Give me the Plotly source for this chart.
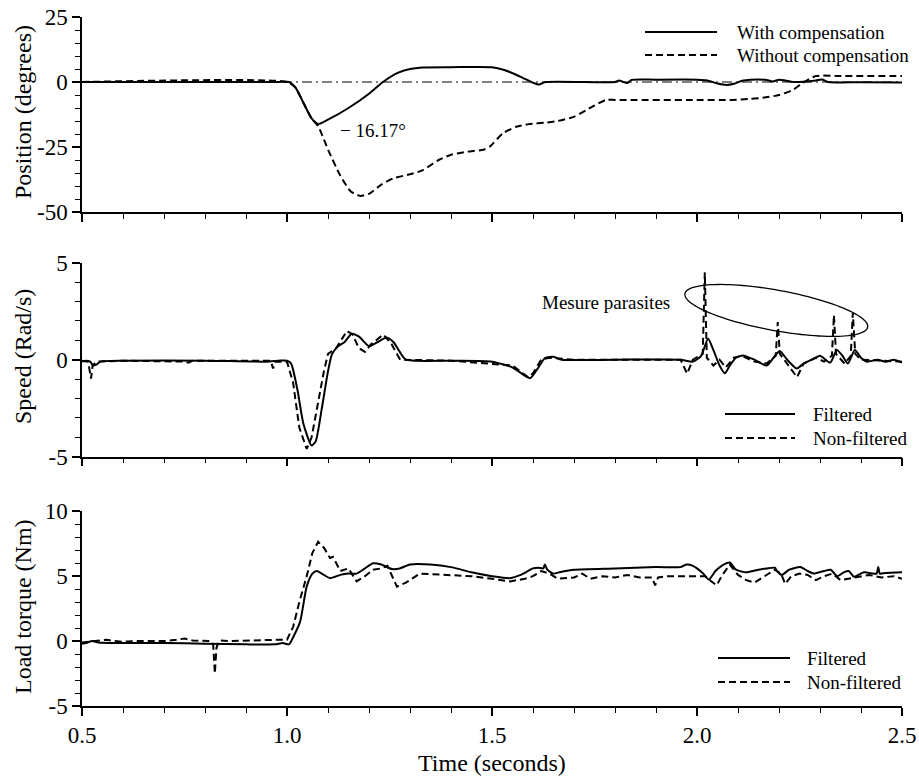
import numpy as np
import plotly.graph_objects as go

# ---------------- data ----------------
# Position (degrees)
pos_t_comp = [0.50, 0.98, 1.005, 1.02, 1.04, 1.06, 1.076, 1.10, 1.15, 1.20, 1.234, 1.27, 1.30, 1.33,
              1.40, 1.50, 1.53, 1.57, 1.60, 1.615, 1.63, 1.80, 1.81, 1.82, 1.83, 1.84, 1.90, 2.00,
              2.025, 2.05, 2.072, 2.09, 2.11, 2.13, 2.17, 2.185, 2.20, 2.215, 2.235, 2.26, 2.29,
              2.305, 2.32, 2.40, 2.50]
pos_y_comp = [0.0, 0.0, 0.0, -2.0, -8.0, -14.0, -16.17, -14.5, -10.0, -4.5, 0.0, 3.5, 5.0, 5.6,
              5.7, 5.7, 4.6, 2.0, -0.3, -1.0, 0.0, 0.0, 0.6, 0.0, -0.4, 0.8, 0.9, 0.9,
              0.6, -0.6, -1.15, -0.7, 0.5, 0.9, 0.8, 0.2, 0.9, 0.6, 0.0, 0.1, 0.6,
              1.0, 0.0, -0.1, -0.2]

pos_t_nocomp = [0.50, 1.00, 1.02, 1.04, 1.06, 1.076, 1.10, 1.13, 1.155, 1.178, 1.20, 1.23, 1.26,
                1.30, 1.33, 1.37, 1.40, 1.44, 1.48, 1.495, 1.527, 1.559, 1.59, 1.632, 1.66, 1.701,
                1.745, 1.778, 1.80, 2.00, 2.087, 2.13, 2.168, 2.20, 2.233, 2.258, 2.29, 2.35, 2.50]
pos_y_nocomp = [0.0, 0.0, -2.0, -8.0, -14.0, -17.0, -26.0, -36.0, -42.0, -43.8, -43.0, -39.5, -37.0,
                -35.5, -34.0, -30.0, -28.0, -26.8, -26.0, -24.8, -19.7, -17.2, -16.2, -15.6, -15.0, -13.3,
                -9.5, -6.9, -6.9, -6.9, -6.9, -6.5, -5.9, -5.0, -3.1, -0.3, 2.3, 2.3, 2.3]

# Speed (Rad/s)
spd_t_filt = [0.500, 0.510, 0.520, 0.527, 0.535, 0.545, 0.60, 0.80, 0.95, 0.98, 1.00, 1.01, 1.025,
              1.04, 1.06, 1.07, 1.085, 1.10, 1.11, 1.125, 1.14, 1.158, 1.175, 1.20, 1.22, 1.243,
              1.26, 1.275, 1.29, 1.40, 1.50, 1.55, 1.593, 1.61, 1.63, 1.65, 1.67, 1.80, 1.96,
              1.99, 2.01, 2.027, 2.04, 2.055, 2.068, 2.08, 2.095, 2.112, 2.14, 2.17, 2.19, 2.202,
              2.22, 2.243, 2.26, 2.28, 2.30, 2.325, 2.341, 2.355, 2.368, 2.385, 2.40, 2.414,
              2.44, 2.46, 2.48, 2.50]
spd_y_filt = [-0.1, -0.05, -0.1, -0.3, -0.25, -0.1, -0.05, -0.05, -0.1, -0.05, -0.05, -0.2, -1.5,
              -3.3, -4.42, -4.2, -2.5, -0.6, 0.3, 0.7, 0.9, 1.34, 1.2, 0.7, 0.9, 1.15,
              0.9, 0.4, 0.0, -0.05, -0.1, -0.4, -0.95, -0.5, 0.1, 0.15, 0.0, 0.0, 0.0,
              -0.1, 0.2, 1.08, 0.5, -0.3, -0.7, -0.3, 0.1, 0.22, 0.0, -0.3, 0.2, 0.45,
              0.0, -0.45, -0.2, 0.0, 0.2, -0.15, 0.5, 0.2, -0.2, 0.5, 0.1, -0.1,
              0.0, -0.1, 0.0, -0.15]

spd_t_raw = [0.500, 0.515, 0.522, 0.526, 0.535, 0.60, 0.75, 0.76, 0.77, 0.96, 0.966, 0.972, 1.00,
             1.015, 1.03, 1.048, 1.06, 1.075, 1.09, 1.10, 1.12, 1.146, 1.16, 1.175, 1.19, 1.205,
             1.235, 1.255, 1.276, 1.40, 1.55, 1.588, 1.60, 1.62, 1.64, 1.70, 1.96, 1.976, 1.99,
             2.014, 2.019, 2.024, 2.04, 2.055, 2.07, 2.09, 2.11, 2.14, 2.17, 2.192, 2.197, 2.202,
             2.22, 2.244, 2.26, 2.29, 2.31, 2.329, 2.334, 2.339, 2.36, 2.375, 2.38, 2.386, 2.40,
             2.44, 2.50]
spd_y_raw = [-0.05, -0.1, -0.97, -0.3, -0.1, -0.05, -0.1, -0.15, -0.05, -0.05, -0.45, -0.1, -0.1,
             -1.2, -3.5, -4.6, -4.0, -2.2, -0.6, 0.3, 0.6, 1.48, 1.3, 0.6, 0.4, 0.8,
             1.3, 0.8, 0.0, -0.05, -0.3, -0.9, -0.7, 0.0, 0.1, 0.0, 0.0, -0.72, 0.0,
             0.3, 4.5, 0.1, -0.3, 0.0, -0.4, 0.1, 0.2, -0.1, -0.2, 0.2, 1.94, 0.3,
             -0.2, -0.9, -0.2, 0.1, -0.1, 0.2, 2.3, 0.3, -0.2, 0.2, 2.4, 0.3, 0.0,
             -0.05, -0.1]

# Load torque (Nm)
trq_t_filt = [0.500, 0.51, 0.525, 0.54, 0.60, 0.70, 0.80, 0.90, 0.97, 0.99, 1.005, 1.015, 1.032,
              1.048, 1.062, 1.073, 1.09, 1.105, 1.13, 1.15, 1.17, 1.19, 1.21, 1.23, 1.256, 1.275,
              1.30, 1.35, 1.40, 1.45, 1.50, 1.544, 1.57, 1.60, 1.612, 1.625, 1.629, 1.635, 1.649,
              1.67, 1.70, 1.80, 1.90, 1.959, 1.975, 1.99, 2.00, 2.015, 2.029, 2.045, 2.06, 2.08,
              2.095, 2.12, 2.15, 2.17, 2.19, 2.195, 2.207, 2.225, 2.252, 2.27, 2.285, 2.31, 2.326,
              2.342, 2.358, 2.37, 2.383, 2.407, 2.43, 2.438, 2.442, 2.446, 2.46, 2.50]
trq_y_filt = [-0.2, -0.15, 0.0, -0.1, -0.15, -0.15, -0.2, -0.25, -0.25, -0.15, -0.25, 0.3, 1.5,
              4.2, 5.2, 5.4, 5.1, 4.85, 5.1, 5.2, 5.2, 5.6, 6.0, 5.9, 5.55, 5.6,
              5.9, 5.9, 5.7, 5.3, 5.0, 4.85, 5.1, 5.6, 5.65, 5.6, 5.9, 5.5, 5.2,
              5.35, 5.5, 5.6, 5.7, 5.7, 5.9, 5.8, 5.6, 5.2, 4.75, 5.4, 5.8, 6.05,
              5.5, 5.3, 5.5, 5.6, 5.65, 5.4, 5.1, 5.5, 5.7, 5.4, 5.2, 5.4, 5.5,
              5.0, 5.3, 5.4, 4.95, 5.3, 5.2, 5.2, 5.7, 5.2, 5.25, 5.3]

trq_t_raw = [0.500, 0.52, 0.54, 0.56, 0.58, 0.60, 0.63, 0.66, 0.70, 0.73, 0.75, 0.77, 0.80, 0.815,
             0.82, 0.824, 0.828, 0.835, 0.86, 0.90, 0.94, 0.97, 1.00, 1.015, 1.03, 1.048, 1.062,
             1.076, 1.09, 1.105, 1.112, 1.13, 1.15, 1.17, 1.19, 1.21, 1.23, 1.245, 1.268, 1.29,
             1.324, 1.40, 1.45, 1.50, 1.544, 1.58, 1.60, 1.62, 1.64, 1.66, 1.70, 1.72, 1.74,
             1.77, 1.80, 1.83, 1.86, 1.89, 1.898, 1.905, 1.93, 1.96, 2.00, 2.02, 2.035, 2.048,
             2.06, 2.08, 2.10, 2.12, 2.14, 2.16, 2.19, 2.205, 2.215, 2.23, 2.25, 2.27, 2.29,
             2.31, 2.33, 2.35, 2.37, 2.40, 2.42, 2.45, 2.48, 2.50]
trq_y_raw = [-0.1, -0.05, 0.0, 0.1, 0.0, -0.05, 0.0, 0.0, 0.0, 0.1, 0.2, 0.05, 0.0, 0.0,
             -0.3, -2.5, -0.5, 0.05, 0.0, 0.05, 0.1, 0.1, 0.1, 1.1, 3.0, 5.0, 6.8,
             7.65, 7.2, 6.4, 6.5, 5.4, 5.6, 4.6, 5.0, 5.5, 5.6, 5.8, 4.2, 4.5,
             5.2, 5.1, 5.0, 4.8, 4.6, 4.8, 5.0, 5.4, 5.2, 4.8, 4.9, 5.2, 4.8,
             5.0, 4.9, 5.1, 4.9, 4.9, 4.3, 4.9, 5.0, 5.0, 5.0, 5.0, 4.6, 4.3,
             5.0, 5.9, 5.1, 4.7, 4.5, 4.9, 5.5, 5.2, 4.4, 5.0, 5.2, 5.1, 4.7,
             5.0, 5.2, 4.7, 4.8, 5.0, 5.1, 4.9, 5.0, 4.8]

# axis ticks
x_ticks = [0.5, 1.0, 1.5, 2.0, 2.5]
x_tick_text = ["0.5", "1.0", "1.5", "2.0", "2.5"]
pos_ticks = [25, 0, -25, -50]
pos_tick_text = ["25", "0", "-25", "-50"]
spd_ticks = [5, 0, -5]
spd_tick_text = ["5", "0", "-5"]
trq_ticks = [10, 5, 0, -5]
trq_tick_text = ["10", "5", "0", "-5"]

# ---------------- figure ----------------
FONT = "Liberation Serif"
W, H = 919, 780
ML, MR, MT, MB = 82, 17, 17, 74
PW, PH = W - ML - MR, H - MT - MB

def pdom(top_px, bot_px):
    return [(H - MB - bot_px) / PH, (H - MB - top_px) / PH]

dom_top = pdom(17, 212)
dom_mid = pdom(262.7, 456.7)
dom_bot = pdom(511.3, 706)

solid = dict(color="black", width=2.0)
dashed = dict(color="black", width=2.0, dash="7px,4px")

fig = go.Figure()
fig.add_trace(go.Scatter(x=pos_t_comp, y=pos_y_comp, mode="lines", line=dict(**solid, shape="spline", smoothing=0.6),
                         xaxis="x", yaxis="y", showlegend=False))
fig.add_trace(go.Scatter(x=pos_t_nocomp, y=pos_y_nocomp, mode="lines", line=dict(**dashed, shape="spline", smoothing=0.6),
                         xaxis="x", yaxis="y", showlegend=False))
fig.add_trace(go.Scatter(x=spd_t_raw, y=spd_y_raw, mode="lines", line=dashed,
                         xaxis="x2", yaxis="y2", showlegend=False))
fig.add_trace(go.Scatter(x=spd_t_filt, y=spd_y_filt, mode="lines", line=dict(**solid, shape="spline", smoothing=0.6),
                         xaxis="x2", yaxis="y2", showlegend=False))
fig.add_trace(go.Scatter(x=trq_t_raw, y=trq_y_raw, mode="lines", line=dashed,
                         xaxis="x3", yaxis="y3", showlegend=False))
fig.add_trace(go.Scatter(x=trq_t_filt, y=trq_y_filt, mode="lines", line=dict(**solid, shape="spline", smoothing=0.6),
                         xaxis="x3", yaxis="y3", showlegend=False))

axis_common = dict(showgrid=False, zeroline=False, showline=True, linecolor="black", linewidth=1.5,
                   ticks="outside", ticklen=8, tickwidth=1.5, tickcolor="black", automargin=False,
                   tickfont=dict(family=FONT, size=23, color="black"))

def xaxis(anchor, labels):
    return dict(**axis_common, domain=[0, 1], range=[0.5, 2.5], anchor=anchor,
                tickvals=x_ticks, ticktext=x_tick_text, showticklabels=labels,
                minor=dict(dtick=0.1, tick0=0.5, ticks="outside", ticklen=5, tickwidth=1.2, tickcolor="black"))

def yaxis(anchor, dom, rng, vals, text, mdt):
    return dict(**axis_common, domain=dom, range=rng, anchor=anchor,
                tickvals=vals, ticktext=text,
                minor=dict(dtick=mdt, tick0=0, ticks="outside", ticklen=5, tickwidth=1.2, tickcolor="black"))

fig.update_layout(
    width=W, height=H,
    margin=dict(l=ML, r=MR, t=MT, b=MB, autoexpand=False),
    paper_bgcolor="white", plot_bgcolor="white",
    font=dict(family=FONT, color="black"),
    xaxis=xaxis("y", False), yaxis=yaxis("x", dom_top, [-50, 25], pos_ticks, pos_tick_text, 5),
    xaxis2=xaxis("y2", False), yaxis2=yaxis("x2", dom_mid, [-5, 5], spd_ticks, spd_tick_text, 1),
    xaxis3=xaxis("y3", True), yaxis3=yaxis("x3", dom_bot, [-5, 10], trq_ticks, trq_tick_text, 1),
)

shapes = []
# dash-dot reference at zero position
shapes.append(dict(type="line", xref="x", yref="y", x0=0.5, x1=2.5, y0=0, y1=0, layer="below",
                   line=dict(color="black", width=1, dash="10px,4px,2px,4px")))

# ellipse around the measurement spikes (built in pixel space, mapped to data)
px_per_t = PW / 2.0
px_per_spd = (dom_mid[1] - dom_mid[0]) * PH / 10.0
tc, yc = 2.1934, 2.54
a, b, th = 92.9, 20.2, np.deg2rad(10.36)
phi = np.linspace(0, 2 * np.pi, 121)
dx = a * np.cos(phi) * np.cos(th) - b * np.sin(phi) * np.sin(th)
dy = a * np.cos(phi) * np.sin(th) + b * np.sin(phi) * np.cos(th)
ex = tc + dx / px_per_t
ey = yc - dy / px_per_spd
path = "M " + " L ".join(f"{u:.5f},{v:.5f}" for u, v in zip(ex, ey)) + " Z"
shapes.append(dict(type="path", xref="x2", yref="y2", path=path, line=dict(color="black", width=1.3)))

annotations = []

# hand-drawn legends (long line samples)
def legend(x0, x1, xt, ys, labels):
    for yv, lab, style in zip(ys, labels, ["solid", "dashed"]):
        ln = dict(color="black", width=2.0)
        if style == "dashed":
            ln["dash"] = "7px,4px"
        shapes.append(dict(type="line", xref="paper", yref="paper", x0=x0, x1=x1, y0=yv, y1=yv, line=ln))
        annotations.append(dict(xref="paper", yref="paper", x=xt, y=yv, text=lab, showarrow=False,
                                xanchor="left", yanchor="middle", font=dict(family=FONT, size=19, color="black")))

def px_x(p):
    return (p - ML) / PW

def px_y(p):
    return (H - MB - p) / PH

legend(px_x(645), px_x(717), px_x(735), [px_y(32), px_y(55)], ["With compensation", "Without compensation"])
legend(px_x(725), px_x(795), px_x(811), [px_y(414), px_y(438)], ["Filtered", "Non-filtered"])
legend(px_x(718), px_x(790), px_x(805), [px_y(658), px_y(682)], ["Filtered", "Non-filtered"])

# text labels
annotations.append(dict(xref="x", yref="y", x=1.124, y=-18.5, text="− 16.17°", showarrow=False,
                        xanchor="left", yanchor="middle", font=dict(family=FONT, size=19, color="black")))
annotations.append(dict(xref="x2", yref="y2", x=1.617, y=2.95, text="Mesure parasites", showarrow=False,
                        xanchor="left", yanchor="middle", font=dict(family=FONT, size=19, color="black")))

# axis titles
for txt, ypx in [("Position (degrees)", 112), ("Speed (Rad/s)", 357), ("Load torque (Nm)", 607)]:
    annotations.append(dict(xref="paper", yref="paper", x=px_x(23), y=px_y(ypx), text=txt, textangle=-90,
                            showarrow=False, xanchor="center", yanchor="middle",
                            font=dict(family=FONT, size=24, color="black")))
annotations.append(dict(xref="paper", yref="paper", x=px_x(492), y=px_y(763), text="Time (seconds)",
                        showarrow=False, xanchor="center", yanchor="middle",
                        font=dict(family=FONT, size=24, color="black")))

fig.update_layout(shapes=shapes, annotations=annotations)
fig.write_html("out.html")
